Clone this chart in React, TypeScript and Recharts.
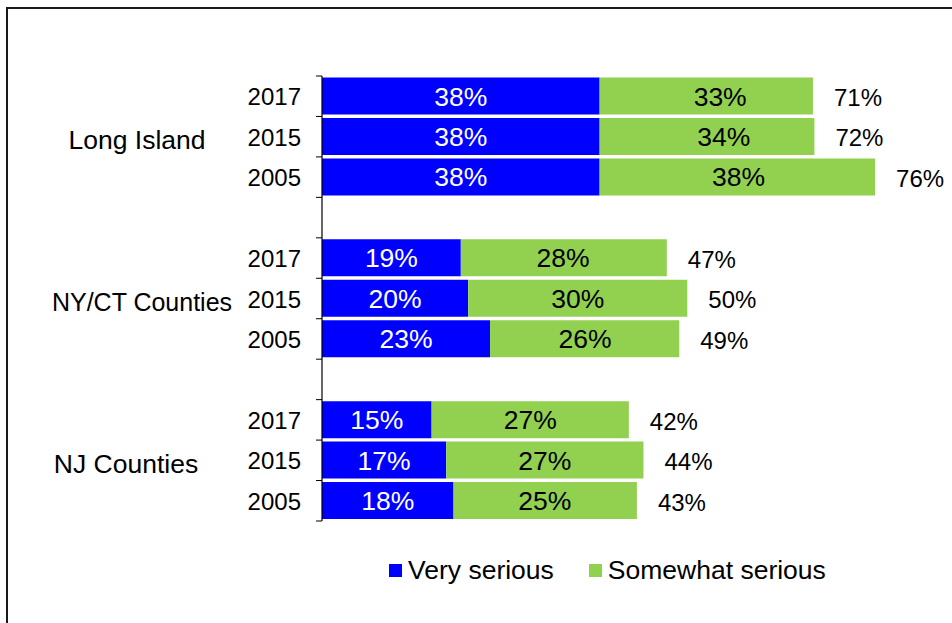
import React from "react";
import { BarChart, Bar, XAxis, YAxis, LabelList } from "recharts";

// ---- data ----
const groups = ["Long Island", "NY/CT Counties", "NJ Counties"];
const years = ["2017", "2015", "2005"];
const veryValues = [38, 38, 38, 19, 20, 23, 15, 17, 18];
const somewhatValues = [29.2, 29.4, 37.7, 28.2, 30.0, 25.9, 27.0, 27.0, 25.1];
const veryLabels = [38, 38, 38, 19, 20, 23, 15, 17, 18];
const somewhatLabels = [33, 34, 38, 28, 30, 26, 27, 27, 25];
const totalLabels = [71, 72, 76, 47, 50, 49, 42, 44, 43];
const seriesNames = ["Very serious", "Somewhat serious"];

// ---- layout / style ----
const W = 952;
const H = 623;
const FONT = '"Liberation Sans", Arial, sans-serif';
const BLUE = "#0000FF";
const GREEN = "#92D050";
const AXIS_X = 322;
const TOP = 76;
const PLOT_H = 445;
const RIGHT = 9;
const X_MAX = 85;
const PLOT_W = W - AXIS_X - RIGHT;
const PX = PLOT_W / X_MAX;
const GROUP_LABEL_CENTER = [137, 142, 126];
const GROUP_LABEL_SIZE = [26.5, 25, 26.5];

type Row = {
  key: string;
  year: string;
  group: string;
  groupIndex: number;
  very?: number | null;
  somewhat?: number | null;
  veryLabel?: number | null;
  somewhatLabel?: number | null;
  totalLabel?: number | null;
};

const rows: Row[] = [];
groups.forEach((g, gi) => {
  years.forEach((y, yi) => {
    const i = gi * 3 + yi;
    rows.push({
      key: `${gi}-${yi}`,
      year: y,
      group: yi === 1 ? g : "",
      groupIndex: gi,
      very: veryValues[i],
      somewhat: somewhatValues[i],
      veryLabel: veryLabels[i],
      somewhatLabel: somewhatLabels[i],
      totalLabel: totalLabels[i],
    });
  });
  if (gi < groups.length - 1) {
    rows.push({ key: `gap-${gi}`, year: "", group: "", groupIndex: gi, very: null, somewhat: null, veryLabel: null, somewhatLabel: null, totalLabel: null });
  }
});
const rowByKey: Record<string, Row> = {};
rows.forEach((r) => (rowByKey[r.key] = r));
const BAND = PLOT_H / rows.length;

const YearTick = (props: any) => {
  const { y, payload, index } = props;
  const row = rowByKey[payload.value];
  const cy = Number(y);
  const isLast = index === rows.length - 1;
  return (
    <g>
      <line x1={AXIS_X - 6} x2={AXIS_X} y1={cy - BAND / 2} y2={cy - BAND / 2} stroke="#000" strokeWidth={1} />
      {isLast && (
        <line x1={AXIS_X - 6} x2={AXIS_X} y1={cy + BAND / 2} y2={cy + BAND / 2} stroke="#000" strokeWidth={1} />
      )}
      {row && row.year && (
        <text x={AXIS_X - 21} y={cy + 9} textAnchor="end" fontSize={24} fill="#000" fontFamily={FONT}>
          {row.year}
        </text>
      )}
      {row && row.group && (
        <text
          x={GROUP_LABEL_CENTER[row.groupIndex]}
          y={cy + 12.5}
          textAnchor="middle"
          fontSize={GROUP_LABEL_SIZE[row.groupIndex]}
          fill="#000"
          fontFamily={FONT}
        >
          {row.group}
        </text>
      )}
    </g>
  );
};

const VeryLabel = (props: any) => {
  const { x, y, width, height, value } = props;
  if (value == null) return null;
  return (
    <text x={Number(x) + Number(width) / 2} y={Number(y) + Number(height) / 2 + 9.5} textAnchor="middle" fontSize={26.5} fill="#fff" fontFamily={FONT}>
      {`${value}%`}
    </text>
  );
};

const SomewhatLabel = (props: any) => {
  const { x, y, height, value } = props;
  if (value == null) return null;
  return (
    <text x={Number(x) + (Number(value) * PX) / 2} y={Number(y) + Number(height) / 2 + 9.5} textAnchor="middle" fontSize={26.5} fill="#000" fontFamily={FONT}>
      {`${value}%`}
    </text>
  );
};

const TotalLabel = (props: any) => {
  const { x, y, width, height, value } = props;
  if (value == null) return null;
  return (
    <text x={Number(x) + Number(width) + 21} y={Number(y) + Number(height) / 2 + 10} textAnchor="start" fontSize={24} fill="#000" fontFamily={FONT}>
      {`${value}%`}
    </text>
  );
};

export default function App() {
  return (
    <div style={{ position: "fixed", left: 0, top: 0, width: W, height: H, background: "#fff", overflow: "hidden", fontFamily: FONT }}>
      <div
        style={{
          position: "absolute",
          left: 6,
          top: 7,
          width: W + 50,
          height: H + 50,
          borderLeft: "2px solid #1a1a1a",
          borderTop: "2px solid #1a1a1a",
          boxSizing: "border-box",
        }}
      />
      <div style={{ position: "absolute", left: 0, top: 0 }}>
        <BarChart
          width={W}
          height={H}
          layout="vertical"
          data={rows}
          margin={{ top: TOP, right: RIGHT, left: 0, bottom: H - TOP - PLOT_H }}
          barCategoryGap={1.5}
        >
          <XAxis type="number" domain={[0, X_MAX]} hide allowDataOverflow />
          <YAxis
            type="category"
            dataKey="key"
            width={AXIS_X}
            tickLine={false}
            axisLine={{ stroke: "#000", strokeWidth: 1.2 }}
            interval={0}
            tick={<YearTick />}
          />
          <Bar dataKey="very" stackId="s" fill={BLUE} isAnimationActive={false}>
            <LabelList dataKey="veryLabel" content={<VeryLabel />} />
          </Bar>
          <Bar dataKey="somewhat" stackId="s" fill={GREEN} isAnimationActive={false}>
            <LabelList dataKey="somewhatLabel" content={<SomewhatLabel />} />
            <LabelList dataKey="totalLabel" content={<TotalLabel />} />
          </Bar>
        </BarChart>
      </div>
      <div
        style={{
          position: "absolute",
          left: 389,
          top: 557,
          height: 26,
          display: "flex",
          alignItems: "center",
          fontSize: 26.5,
          lineHeight: "26px",
          color: "#000",
          whiteSpace: "nowrap",
        }}
      >
        {seriesNames.map((n, i) => (
          <div key={n} style={{ display: "flex", alignItems: "center", marginRight: i === 0 ? 35 : 0 }}>
            <span style={{ display: "inline-block", width: 13, height: 13, background: i === 0 ? BLUE : GREEN, marginRight: 6 }} />
            <span>{n}</span>
          </div>
        ))}
      </div>
    </div>
  );
}
